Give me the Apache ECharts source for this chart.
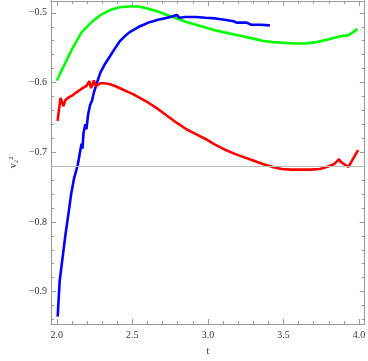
<!DOCTYPE html>
<html>
<head>
<meta charset="utf-8">
<script src="https://cdn.jsdelivr.net/npm/echarts@6/dist/echarts.min.js"></script>
<style>
  html, body { margin: 0; padding: 0; background: #fff; }
  #chart { width: 368px; height: 361px; }
</style>
</head>
<body>
<div id="chart"></div>
<script>
// tick labels
const xMajor = [2.0, 2.5, 3.0, 3.5, 4.0]
const yMajor = [-0.9, -0.8, -0.7, -0.6, -0.5]
const refLevel = -0.72

// green curve [t, v]
const greenPts = [
  [2.0, -0.597], [2.038, -0.58], [2.101, -0.552], [2.164, -0.528], [2.227, -0.514],
  [2.29, -0.503], [2.353, -0.496], [2.416, -0.492], [2.48, -0.491], [2.543, -0.491],
  [2.606, -0.494], [2.669, -0.498], [2.73, -0.503], [2.795, -0.508], [2.858, -0.513],
  [2.921, -0.517], [2.984, -0.521], [3.047, -0.525], [3.11, -0.528], [3.174, -0.531],
  [3.237, -0.534], [3.30, -0.537], [3.36, -0.540], [3.43, -0.542], [3.50, -0.543],
  [3.57, -0.544], [3.64, -0.544], [3.72, -0.542], [3.80, -0.538], [3.87, -0.534],
  [3.93, -0.532], [3.96, -0.528], [3.99, -0.523]
]

// blue curve [t, v]
const bluePts = [
  [2.006, -0.936], [2.019, -0.885], [2.038, -0.852], [2.057, -0.819], [2.082, -0.781],
  [2.095, -0.760], [2.114, -0.738], [2.139, -0.718], [2.151, -0.703], [2.164, -0.688],
  [2.170, -0.695], [2.177, -0.672], [2.189, -0.660], [2.196, -0.667], [2.208, -0.645],
  [2.221, -0.632], [2.233, -0.626], [2.246, -0.614], [2.271, -0.597], [2.29, -0.585],
  [2.32, -0.573], [2.353, -0.562], [2.385, -0.551], [2.416, -0.541], [2.448, -0.534],
  [2.48, -0.528], [2.511, -0.524], [2.543, -0.520], [2.575, -0.517], [2.606, -0.514],
  [2.638, -0.512], [2.669, -0.510], [2.71, -0.508], [2.751, -0.506], [2.795, -0.503],
  [2.81, -0.507], [2.85, -0.506], [2.921, -0.506], [2.984, -0.507], [3.05, -0.508],
  [3.11, -0.510], [3.17, -0.512], [3.19, -0.514], [3.256, -0.514], [3.287, -0.517],
  [3.35, -0.517], [3.41, -0.518]
]

// red curve [t, v]
const redPts = [
  [2.006, -0.655], [2.013, -0.641], [2.025, -0.622], [2.044, -0.634], [2.057, -0.625],
  [2.082, -0.621], [2.107, -0.618], [2.13, -0.614], [2.151, -0.611], [2.17, -0.608],
  [2.196, -0.605], [2.215, -0.598], [2.227, -0.608], [2.246, -0.597], [2.259, -0.605],
  [2.29, -0.601], [2.309, -0.601], [2.347, -0.602], [2.385, -0.605], [2.426, -0.609],
  [2.467, -0.613], [2.508, -0.617], [2.549, -0.622], [2.606, -0.629], [2.656, -0.636],
  [2.694, -0.642], [2.732, -0.648], [2.795, -0.658], [2.858, -0.667], [2.921, -0.674],
  [2.984, -0.681], [3.047, -0.689], [3.11, -0.696], [3.174, -0.702], [3.237, -0.707],
  [3.30, -0.712], [3.363, -0.717], [3.426, -0.721], [3.489, -0.724], [3.552, -0.725],
  [3.615, -0.725], [3.678, -0.725], [3.741, -0.724], [3.79, -0.721], [3.836, -0.717],
  [3.868, -0.710], [3.88, -0.714], [3.93, -0.721], [3.994, -0.697]
]

const xRange = [1.962, 4.038]
const yRange = [-0.9465, -0.483]

// minor tick positions
const xMinor = []
for (let i = 0; i <= 20; i++) xMinor.push(Math.round((2 + i * 0.1) * 100) / 100)
const yMinor = []
for (let i = 0; i <= 22; i++) yMinor.push(Math.round((-0.94 + i * 0.02) * 100) / 100)

const frameColor = '#999'
const labelFont = { fontFamily: 'Liberation Serif', fontSize: 10, color: '#333' }
const fmt = v => v.toFixed(1).replace('-', '\u2212')

function xAxisDef(pos, ticks, len, labels) {
  return {
    type: 'value', position: pos, min: xRange[0], max: xRange[1],
    axisLine: { show: true, onZero: false, lineStyle: { color: frameColor, width: 1 } },
    axisTick: { show: true, inside: true, length: len, customValues: ticks, lineStyle: { color: frameColor } },
    axisLabel: labels ? Object.assign({ show: true, customValues: xMajor, formatter: fmt, margin: 6 }, labelFont) : { show: false },
    splitLine: { show: false }
  }
}

function yAxisDef(pos, ticks, len, labels) {
  return {
    type: 'value', position: pos, min: yRange[0], max: yRange[1],
    axisLine: { show: true, onZero: false, lineStyle: { color: frameColor, width: 1 } },
    axisTick: { show: true, inside: true, length: len, customValues: ticks, lineStyle: { color: frameColor } },
    axisLabel: labels ? Object.assign({ show: true, customValues: yMajor, formatter: fmt, margin: 4 }, labelFont) : { show: false },
    splitLine: { show: false }
  }
}

const xAxes = [
  xAxisDef('bottom', xMajor, 5, true),
  xAxisDef('bottom', xMinor, 3, false),
  xAxisDef('top', xMajor, 5, false),
  xAxisDef('top', xMinor, 3, false)
]
xAxes[0].name = 't'
xAxes[0].nameLocation = 'middle'
xAxes[0].nameGap = 22
xAxes[0].nameTextStyle = { fontFamily: 'Liberation Serif', fontSize: 10, color: '#333' }

const yAxes = [
  yAxisDef('left', yMajor, 5, true),
  yAxisDef('left', yMinor, 3, false),
  yAxisDef('right', yMajor, 5, false),
  yAxisDef('right', yMinor, 3, false)
]
yAxes[0].name = 'v\u2082\u00b2'
yAxes[0].nameLocation = 'middle'
yAxes[0].nameGap = 31
yAxes[0].nameTextStyle = { fontFamily: 'Liberation Serif', fontSize: 10, color: '#333' }

const chart = echarts.init(document.getElementById('chart'))

const lineSeries = (name, data, color) => ({
  name: name,
  type: 'line',
  data: data,
  showSymbol: false,
  symbol: 'none',
  lineStyle: { color: color, width: 2.6 },
  itemStyle: { color: color },
  z: 3
})

chart.setOption({
  animation: false,
  grid: { left: 38, right: 1, top: 1, bottom: 31 },
  xAxis: xAxes,
  yAxis: yAxes,
  series: [
    {
      type: 'line',
      data: [],
      markLine: {
        silent: true,
        symbol: 'none',
        label: { show: false },
        lineStyle: { color: '#bbb', type: 'solid', width: 1 },
        data: [{ yAxis: refLevel }]
      }
    },
    lineSeries('green', greenPts, '#00ff00'),
    lineSeries('blue', bluePts, '#0000ff'),
    lineSeries('red', redPts, '#ff0000')
  ]
})
</script>
</body>
</html>
